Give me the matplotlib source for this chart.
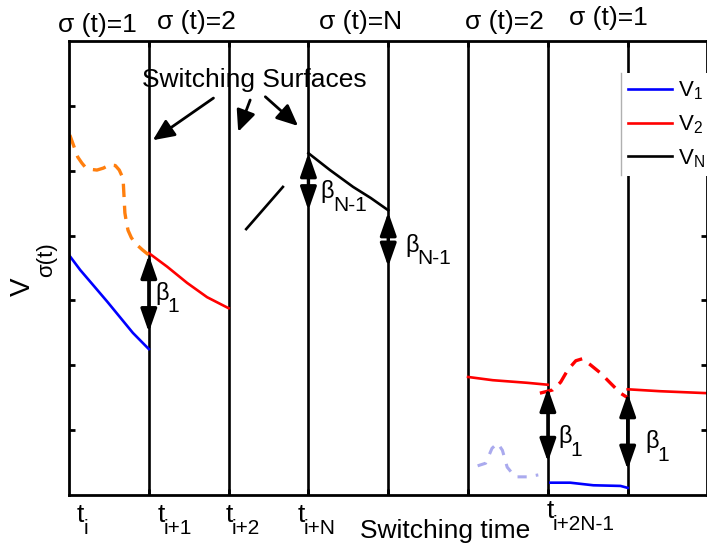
import matplotlib.pyplot as plt
from matplotlib.lines import Line2D

plt.rcParams['font.family'] = ['Liberation Sans', 'DejaVu Sans']
plt.rcParams['mathtext.fontset'] = 'custom'
plt.rcParams['mathtext.rm'] = 'Liberation Sans'
plt.rcParams['mathtext.it'] = 'Liberation Sans'
plt.rcParams['mathtext.default'] = 'regular'

# switching instants (surfaces) and top mode labels
switch_times = [1, 2, 3, 4, 5, 6, 7]
mode_labels = ['σ (t)=1', 'σ (t)=2', 'σ (t)=N', 'σ (t)=2', 'σ (t)=1']
mode_pos = [(0.35, 7.25), (1.60, 7.29), (3.65, 7.29), (5.45, 7.29), (6.76, 7.35)]

time_subs = ['i', 'i+1', 'i+2', 'i+N', 'i+2N-1']
time_label_pos = [(0.10, -0.42), (1.11, -0.42), (1.96, -0.42), (2.86, -0.42), (5.98, -0.35)]

# V1 on first interval
v1a_x = [0, 0.14, 0.30, 0.48, 0.64, 0.80, 1.0]
v1a_y = [3.70, 3.47, 3.24, 2.98, 2.74, 2.50, 2.25]
# V2 before switching (dashed, orange)
v2pre_x = [0.01, 0.06, 0.11, 0.16, 0.20, 0.28, 0.35, 0.43, 0.51, 0.58, 0.63, 0.67,
           0.68, 0.69, 0.70, 0.72, 0.74, 0.78, 0.83, 0.92, 1.0]
v2pre_y = [5.55, 5.38, 5.21, 5.12, 5.06, 5.02, 5.01, 5.04, 5.09, 5.08, 5.01, 4.90,
           4.82, 4.59, 4.35, 4.20, 4.08, 3.97, 3.88, 3.78, 3.70]
# V2 on second interval
v2a_x = [1.0, 1.23, 1.48, 1.73, 2.0]
v2a_y = [3.73, 3.52, 3.27, 3.05, 2.88]
# VN pieces
vn_seg_x = [2.22, 2.68]
vn_seg_y = [4.10, 4.75]
vn_x = [3.0, 3.27, 3.56, 3.78, 4.0]
vn_y = [5.27, 5.01, 4.75, 4.58, 4.39]
# second round
v2b_x = [5.0, 5.31, 5.74, 6.0]
v2b_y = [1.82, 1.77, 1.73, 1.70]
v2dash_x = [5.90, 6.06, 6.16, 6.25, 6.35, 6.43, 6.53, 6.66, 6.78, 6.91, 7.0]
v2dash_y = [1.57, 1.62, 1.74, 1.93, 2.07, 2.10, 2.01, 1.88, 1.73, 1.57, 1.50]
v2c_x = [7.0, 7.41, 8.0]
v2c_y = [1.63, 1.60, 1.57]
v1b_x = [6.03, 6.28, 6.57, 6.91, 7.0]
v1b_y = [0.19, 0.19, 0.15, 0.14, 0.11]
v1dash_x = [5.12, 5.22, 5.30, 5.37, 5.43, 5.49, 5.59, 5.74, 5.88]
v1dash_y = [0.45, 0.49, 0.72, 0.80, 0.69, 0.43, 0.28, 0.28, 0.31]

# beta jumps: (x, top, bottom), labels and label positions
jumps = [(1, 3.70, 2.51), (3, 5.27, 4.39), (4, 4.36, 3.52), (6, 1.65, 0.51), (7, 1.57, 0.39)]
jump_subs = ['1', 'N-1', 'N-1', '1', '1']
jump_label_pos = [(1.08, 3.01), (3.15, 4.58), (4.21, 3.75), (6.13, 0.80), (7.22, 0.72)]

# pointers from the "Switching Surfaces" note
pointer_start = [(1.81, 6.12), (2.27, 6.09), (2.46, 6.14)]
pointer_end = [(1.05, 5.47), (2.12, 5.60), (2.87, 5.69)]

fig = plt.figure(figsize=(7.07, 5.48), dpi=100)
ax = fig.add_axes([0.0976, 0.0967, 0.9031, 0.8285])
ax.set_xlim(0, 8)
ax.set_ylim(0, 7)
for s in ax.spines.values():
    s.set_linewidth(2.0)


def sub_label(x, y, base, sub, size, subsize, drop):
    # base text plus a dropped subscript right after it
    t = ax.text(x, y, base, fontsize=size, ha='left', va='baseline')
    ax.annotate(sub, xy=(1, 0), xycoords=t, xytext=(-0.8, -drop),
                textcoords='offset points', fontsize=subsize,
                ha='left', va='baseline')


for t in switch_times:
    ax.axvline(t, color='black', lw=1.9, zorder=1)

lw = 1.9
l1, = ax.plot(v1a_x, v1a_y, color='#0000ff', lw=lw)
l2, = ax.plot(v2a_x, v2a_y, color='#ff0000', lw=lw)
ln, = ax.plot(vn_x, vn_y, color='black', lw=lw)
ax.plot(vn_seg_x, vn_seg_y, color='black', lw=lw)
ax.plot(v2pre_x, v2pre_y, color='#ff7f0e', lw=2.4, ls=(0, (4, 2.6)))
ax.plot(v2b_x, v2b_y, color='#ff0000', lw=lw)
ax.plot(v2dash_x, v2dash_y, color='#ff0000', lw=2.4, ls=(0, (4, 2.6)))
ax.plot(v2c_x, v2c_y, color='#ff0000', lw=lw)
ax.plot(v1b_x, v1b_y, color='#0000ff', lw=lw)
ax.plot(v1dash_x, v1dash_y, color='#aaaaee', lw=2.2, ls=(0, (3, 3)))

for (x, top, bot) in jumps:
    ax.annotate('', xy=(x, top), xytext=(x, bot),
                arrowprops=dict(arrowstyle='<|-|>,head_length=1.0,head_width=0.35',
                                color='black', lw=2.4, shrinkA=0, shrinkB=0,
                                mutation_scale=14))
for sub, (x, y) in zip(jump_subs, jump_label_pos):
    sub_label(x, y, 'β', sub, 17, 15, 5.5)

for (x0, y0), (x1, y1) in zip(pointer_start, pointer_end):
    ax.annotate('', xy=(x1, y1), xytext=(x0, y0),
                arrowprops=dict(arrowstyle='-|>,head_length=1.0,head_width=0.45',
                                color='black', lw=2.0, shrinkA=0, shrinkB=0,
                                mutation_scale=13))
ax.text(2.32, 6.29, 'Switching Surfaces', fontsize=19, ha='center', va='baseline')

for lab, (x, y) in zip(mode_labels, mode_pos):
    ax.text(x, y, lab, fontsize=19, ha='center', va='center')
for sub, (x, y) in zip(time_subs, time_label_pos):
    sub_label(x, y, 't', sub, 19, 15, 5.0)
ax.text(3.65, -0.66, 'Switching time', fontsize=19, ha='left', va='baseline')

# y label: V with a dropped sigma(t) subscript
fig.text(0.0325, 0.477, 'V', fontsize=20, rotation=90, ha='center', va='center')
fig.text(0.0665, 0.527, 'σ(t)', fontsize=16, rotation=90, ha='center', va='center')

ax.set_xticks(switch_times)
ax.set_yticks([1, 2, 3, 4, 5, 6])
ax.tick_params(direction='in', length=4, width=2, top=True, right=True,
               labelbottom=False, labelleft=False)

leg = ax.legend([l1, l2, ln], ['V$_1$', 'V$_2$', 'V$_N$'],
                loc='upper left', bbox_to_anchor=(0.8646, 0.9295),
                borderaxespad=0, borderpad=0.3, handlelength=2.0,
                handletextpad=0.25, labelspacing=0.5, fontsize=16,
                fancybox=False, framealpha=1)
leg.get_frame().set_edgecolor('none')
leg.get_frame().set_linewidth(0)
ax.add_line(Line2D([0.8646, 0.8646], [0.7048, 0.9295], transform=ax.transAxes,
                   color='#b0b0b0', lw=1.0, zorder=6))

fig.savefig('out.png', dpi=100)
